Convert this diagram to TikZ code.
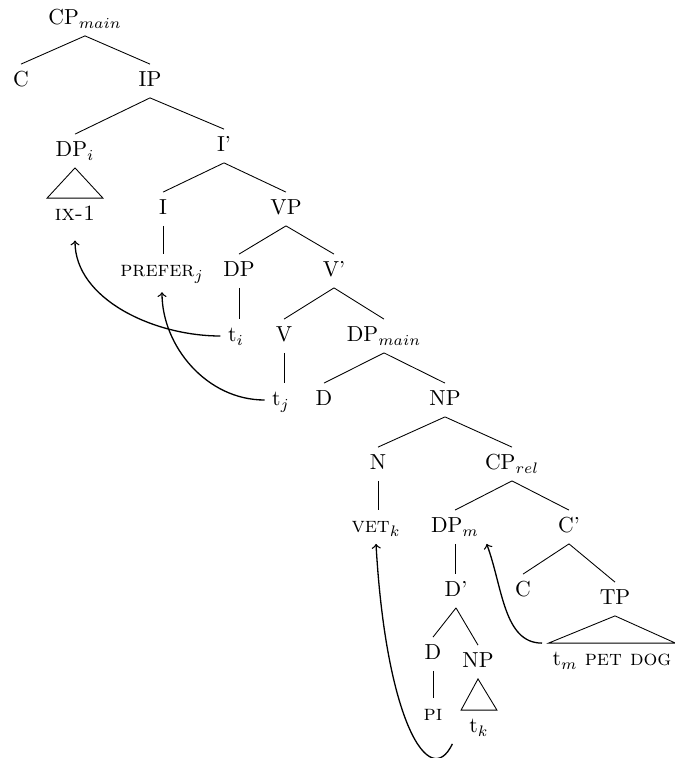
\documentclass[tikz,border=0pt]{standalone}

\begin{document}
\begin{tikzpicture}[x=0.46pt,y=-0.46pt,
  cat/.style={inner xsep=3.33pt,inner ysep=3.8pt,text height=1.5ex,text depth=.25ex},
  roofleaf/.style={cat,inner xsep=0pt},
  move/.style={->,semithick}]
  \useasboundingbox (0,0) rectangle (675,758);

  % CP main, IP
  \node[cat] (cpmain) at (85,19) {CP$_{main}$};
  \node[cat] (cmain) at (21,81) {C};
  \node[cat] (ip) at (150,81) {IP};
  \node[cat] (dpi) at (75,151) {DP$_i$};
  \node[roofleaf,minimum width=25.3pt] (ix1) at (75,215) {\textsc{ix-1}};
  \node[cat] (ibar) at (224,146) {I'};
  \node[cat] (infl) at (163,209) {I};
  \node[cat] (vp) at (286,209) {VP};
  \node[cat] (prefer) at (162,271) {\textsc{prefer}$_j$};
  \node[cat] (dp) at (239,271) {DP};
  \node[cat] (vbar) at (334,271) {V'};
  \node[cat] (ti) at (236,336) {t$_i$};
  \node[cat] (verb) at (284,336) {V};
  \node[cat] (dpmain) at (384,336) {DP$_{main}$};
  \node[cat] (tj) at (281,400) {t$_j$};
  % DP main
  \node[cat] (dmain) at (324,400) {D};
  \node[cat] (np) at (445,400) {NP};
  \node[cat] (noun) at (378,464) {N};
  \node[cat] (cprel) at (512,464) {CP$_{rel}$};
  \node[cat] (vet) at (376,527) {\textsc{vet}$_k$};
  \node[cat] (dpm) at (455,527) {DP$_m$};
  \node[cat] (cbar) at (569,527) {C'};
  \node[cat] (dbar) at (456,591) {D'};
  \node[cat] (crel) at (523,591) {C};
  \node[cat] (tp) at (615,599) {TP};
  \node[cat] (det) at (433,654) {D};
  \node[cat] (npk) at (478,662) {NP};
  \node[cat] (pi) at (433,715) {\textsc{pi}};
  \node[roofleaf,minimum width=16.1pt] (tk) at (479,727) {t$_k$};
  \node[roofleaf,minimum width=58pt] (tm) at (612,660) {t$_m$ \textsc{pet dog}};

  % branches
  \draw (cpmain.south) -- (cmain.north);
  \draw (cpmain.south) -- (ip.north);
  \draw (ip.south) -- (dpi.north);
  \draw (ip.south) -- (ibar.north);
  \draw (ibar.south) -- (infl.north);
  \draw (ibar.south) -- (vp.north);
  \draw (infl.south) -- (infl.south |- prefer.north);
  \draw (vp.south) -- (dp.north);
  \draw (vp.south) -- (vbar.north);
  \draw (dp.south) -- (dp.south |- ti.north);
  \draw (vbar.south) -- (verb.north);
  \draw (vbar.south) -- (dpmain.north);
  \draw (verb.south) -- (verb.south |- tj.north);
  \draw (dpmain.south) -- (dmain.north);
  \draw (dpmain.south) -- (np.north);
  \draw (np.south) -- (noun.north);
  \draw (np.south) -- (cprel.north);
  \draw (noun.south) -- (noun.south |- vet.north);
  \draw (cprel.south) -- (dpm.north);
  \draw (cprel.south) -- (cbar.north);
  \draw (dpm.south) -- (dpm.south |- dbar.north);
  \draw (cbar.south) -- (crel.north);
  \draw (cbar.south) -- (tp.north);
  \draw (dbar.south) -- (det.north);
  \draw (dbar.south) -- (npk.north);
  \draw (det.south) -- (det.south |- pi.north);

  % roofs
  \draw (dpi.south) -- (ix1.north west) -- (ix1.north east) -- cycle;
  \draw (npk.south) -- (tk.north west) -- (tk.north east) -- cycle;
  \draw (tp.south) -- (tm.north west) -- (tm.north east) -- cycle;

  % movement
  \draw[move,shorten >=4pt] (ti.west) .. controls +(-67,0) and +(0,67) .. (ix1.south);
  \draw[move,shorten >=2pt] (tj.west) .. controls +(-58,0) and +(0,58) .. (prefer.south);
  \draw[move] ([xshift=-4pt]tk.south west) .. controls +(-23,48) and +(10,177) .. (vet.south);
  \draw[move,shorten <=3pt] (tm.north west) .. controls +(-45,0) and +(16,43) .. (dpm.south east);
\end{tikzpicture}
\end{document}
